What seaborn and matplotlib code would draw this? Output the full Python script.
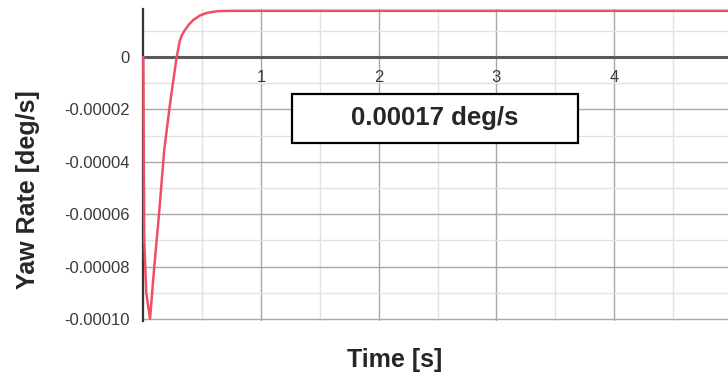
import numpy as np
import pandas as pd
import matplotlib
matplotlib.use("Agg")
import matplotlib.pyplot as plt
import matplotlib.ticker as mticker
from matplotlib.patches import Rectangle
import seaborn as sns

# ---- data ----
time_s = [0.0, 0.008, 0.025, 0.057, 0.093, 0.133, 0.178, 0.221, 0.25, 0.284,
          0.31, 0.33, 0.354, 0.39, 0.425, 0.48, 0.539, 0.635, 0.75, 5.0]
yaw_rate = [0.0, -0.00007, -0.00009, -0.0001, -0.0000802, -0.0000603, -0.0000355,
            -0.00002, -0.0000105, 0.0, 0.0000062, 0.0000085, 0.0000103, 0.0000125,
            0.0000141, 0.0000158, 0.0000168, 0.0000175, 0.0000176, 0.0000176]
y_major = [0, -0.00002, -0.00004, -0.00006, -0.00008, -0.00010]
y_labels = ["0", "-0.00002", "-0.00004", "-0.00006", "-0.00008", "-0.00010"]
x_major = [1, 2, 3, 4]
x_labels = ["1", "2", "3", "4"]
box_text = "0.00017 deg/s"

df = pd.DataFrame({"Time [s]": time_s, "Yaw Rate [deg/s]": yaw_rate})

sns.set_style("white")
plt.rcParams["font.family"] = ["Liberation Sans", "DejaVu Sans"]

W, H = 728, 381
fig = plt.figure(figsize=(W / 100, H / 100), dpi=100)
left_px, right_px, top_px, bot_px = 143.3, 728, 9, 321
ax = fig.add_axes([left_px / W, 1 - bot_px / H, (right_px - left_px) / W, (bot_px - top_px) / H])

sns.lineplot(data=df, x="Time [s]", y="Yaw Rate [deg/s]", ax=ax, color="#f04e66",
             linewidth=1.8, estimator=None, sort=False, clip_on=False, zorder=5,
             solid_joinstyle="round")

ax.set_xlim(0, (right_px - left_px) / 117.7)
ax.set_ylim(-0.0001008, 0.0000183)

# ticks
ax.set_yticks(y_major)
ax.set_yticklabels(y_labels)
ax.yaxis.set_minor_locator(mticker.MultipleLocator(0.00001))
ax.set_xticks(x_major)
ax.set_xticklabels(x_labels)
ax.xaxis.set_minor_locator(mticker.MultipleLocator(0.5))

# grid
ax.grid(which="major", color="#a8a8a8", linewidth=1.0)
ax.grid(which="minor", color="#e2e2e2", linewidth=1.0)
ax.set_axisbelow(True)

# spines: x axis through zero
for s in ["top", "right"]:
    ax.spines[s].set_visible(False)
ax.spines["bottom"].set_position(("data", 0))
ax.spines["bottom"].set_color("#5a5a5a")
ax.spines["bottom"].set_linewidth(2.2)
ax.spines["left"].set_color("#333333")
ax.spines["left"].set_linewidth(1.6)

ax.tick_params(axis="y", which="major", direction="inout", length=7, width=1.2,
               color="#333333", labelsize=12, labelcolor="#3a3a3a", pad=6)
ax.tick_params(axis="y", which="minor", direction="inout", length=5, width=1.0, color="#333333")
ax.tick_params(axis="x", which="major", direction="inout", length=7, width=1.2,
               color="#333333", labelsize=12, labelcolor="#3a3a3a", pad=6)
ax.tick_params(axis="x", which="minor", direction="inout", length=4, width=1.0, color="#333333")

# axis labels
ax.set_ylabel("Yaw Rate [deg/s]", fontsize=18, fontweight="bold", ha="center", va="center")
ax.yaxis.set_label_coords((28 - left_px) / (right_px - left_px), (bot_px - 190) / (bot_px - top_px))
ax.set_xlabel("Time [s]", fontsize=18, fontweight="bold", ha="center", va="center")
ax.xaxis.set_label_coords((395 - left_px) / (right_px - left_px), (bot_px - 360) / (bot_px - top_px))

# annotation box
bx0, by0, bx1, by1 = 292, 94, 578, 143
fig.patches.append(Rectangle((bx0 / W, 1 - by1 / H), (bx1 - bx0) / W, (by1 - by0) / H,
                             transform=fig.transFigure, facecolor="white",
                             edgecolor="black", linewidth=1.6, zorder=10))
fig.text((bx0 + bx1) / 2 / W, 1 - (by0 + by1) / 2 / H, box_text, fontsize=18.5,
         fontweight="bold", ha="center", va="center", zorder=11)

fig.savefig("out.png", dpi=100)
